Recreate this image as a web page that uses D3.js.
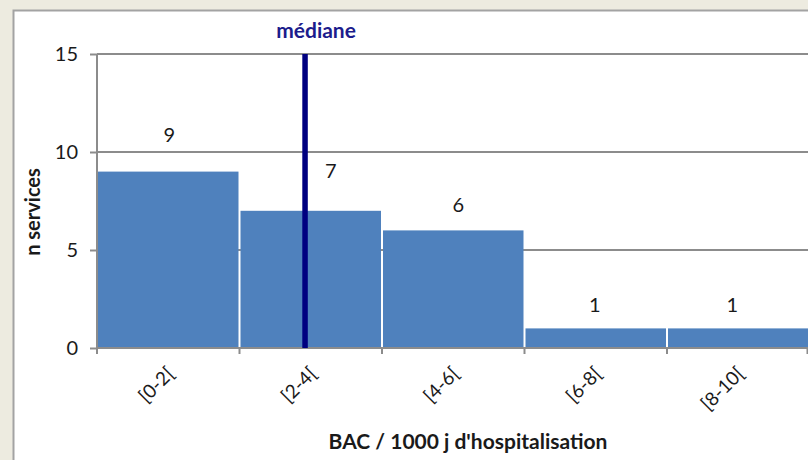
<!DOCTYPE html>
<html>
<head>
<meta charset="utf-8">
<script src="https://cdn.jsdelivr.net/npm/d3@7"></script>
<style>
  html, body { margin: 0; padding: 0; background: #edebe0; }
  svg { display: block; font-family: Lato, "Open Sans", sans-serif; }
</style>
</head>
<body>
<svg id="chart" width="808" height="460"></svg>
<script>
// categories (BAC per 1000 hospital days) and number of services
var categories = ['[0-2[', '[2-4[', '[4-6[', '[6-8[', '[8-10[']
var counts = [9, 7, 6, 1, 1]
var yTicks = [0, 5, 10, 15]
var median = 2.92
var xTitle = "BAC / 1000 j d'hospitalisation"
var yTitle = 'n services'

// label nudges, the source moved a few labels by hand
var labelDx = [1, 20, 5, -1, -6]
var labelDy = [-30, -33, -18, -16, -16]

var barColor = '#4f81bd'
var medianColor = '#000080'
var gridColor = '#8c8c8c'
var textColor = '#1a1a1a'

var svg = d3.select('#chart')
// plot box (don't use "top", it clashes with window.top)
var pLeft = 97, pRight = 809.5, pTop = 54, pBottom = 348

// chart frame
svg.append('rect')
  .attr('x', 13.5).attr('y', 10.5)
  .attr('width', 820).attr('height', 470)
  .attr('fill', '#fff')
  .attr('stroke', '#a3a3a3')
  .attr('stroke-width', 2)

var x = d3.scaleBand().domain(categories).range([pLeft, pRight]).padding(0)
var xNum = d3.scaleLinear().domain([0, 10]).range([pLeft, pRight])
var y = d3.scaleLinear().domain([0, 15]).range([pBottom, pTop])

// y ticks + labels
var yAxis = d3.axisLeft(y).tickValues(yTicks).tickSize(7).tickPadding(12)
var gy = svg.append('g').attr('transform', 'translate(' + pLeft + ',0)').call(yAxis)
gy.select('.domain').remove()
gy.selectAll('.tick line').attr('stroke', gridColor).attr('stroke-width', 2)
gy.selectAll('.tick text')
  .attr('fill', textColor).attr('font-size', 20)
  .attr('font-family', 'Lato, sans-serif')

// gridlines
svg.append('g').selectAll('line')
  .data(yTicks.filter(function(d) { return d > 0 }))
  .join('line')
  .attr('x1', pLeft).attr('x2', 808)
  .attr('y1', function(d) { return y(d) }).attr('y2', function(d) { return y(d) })
  .attr('stroke', gridColor).attr('stroke-width', 2)

// bars
svg.append('g').selectAll('rect')
  .data(counts)
  .join('rect')
  .attr('x', function(d, i) { return x(categories[i]) + 1 })
  .attr('width', x.bandwidth() - 2)
  .attr('y', function(d) { return y(d) })
  .attr('height', function(d) { return y(0) - y(d) })
  .attr('fill', barColor)

// value labels
svg.append('g').selectAll('text')
  .data(counts)
  .join('text')
  .attr('x', function(d, i) { return x(categories[i]) + x.bandwidth() / 2 + labelDx[i] })
  .attr('y', function(d, i) { return y(d) + labelDy[i] })
  .attr('text-anchor', 'middle')
  .attr('font-size', 20)
  .attr('fill', textColor)
  .text(function(d) { return d })

// x axis: ticks at band edges
var edges = categories.map(function(c) { return x(c) }).concat([pRight - 2])
svg.append('line')
  .attr('x1', pLeft).attr('x2', 808)
  .attr('y1', pBottom).attr('y2', pBottom)
  .attr('stroke', gridColor).attr('stroke-width', 2)
svg.append('g').selectAll('line')
  .data(edges)
  .join('line')
  .attr('x1', function(d) { return d }).attr('x2', function(d) { return d })
  .attr('y1', pBottom).attr('y2', pBottom + 6)
  .attr('stroke', gridColor).attr('stroke-width', 2)

// y axis line
svg.append('line')
  .attr('x1', pLeft).attr('x2', pLeft)
  .attr('y1', pTop).attr('y2', pBottom + 6)
  .attr('stroke', gridColor).attr('stroke-width', 2)

// rotated category labels
svg.append('g').selectAll('text')
  .data(categories)
  .join('text')
  .attr('transform', function(d) {
    return 'translate(' + (x(d) + x.bandwidth() / 2 + 7) + ',' + (pBottom + 27) + ') rotate(-45)'
  })
  .attr('text-anchor', 'end')
  .attr('font-size', 19)
  .attr('fill', textColor)
  .text(function(d) { return d })

// median line
svg.append('line')
  .attr('x1', xNum(median)).attr('x2', xNum(median))
  .attr('y1', pTop).attr('y2', pBottom)
  .attr('stroke', medianColor).attr('stroke-width', 5.5)
svg.append('text')
  .attr('x', xNum(median) + 11).attr('y', 38)
  .attr('text-anchor', 'middle')
  .attr('font-size', 21).attr('font-weight', 'bold')
  .attr('fill', '#1c1c8c')
  .text('médiane')

// axis titles
svg.append('text')
  .attr('x', 468).attr('y', 449)
  .attr('text-anchor', 'middle')
  .attr('font-size', 21).attr('font-weight', 'bold')
  .attr('fill', textColor)
  .text(xTitle)
svg.append('text')
  .attr('transform', 'translate(40,212) rotate(-90)')
  .attr('text-anchor', 'middle')
  .attr('font-size', 20).attr('font-weight', 'bold')
  .attr('fill', textColor)
  .text(yTitle)
</script>
</body>
</html>
